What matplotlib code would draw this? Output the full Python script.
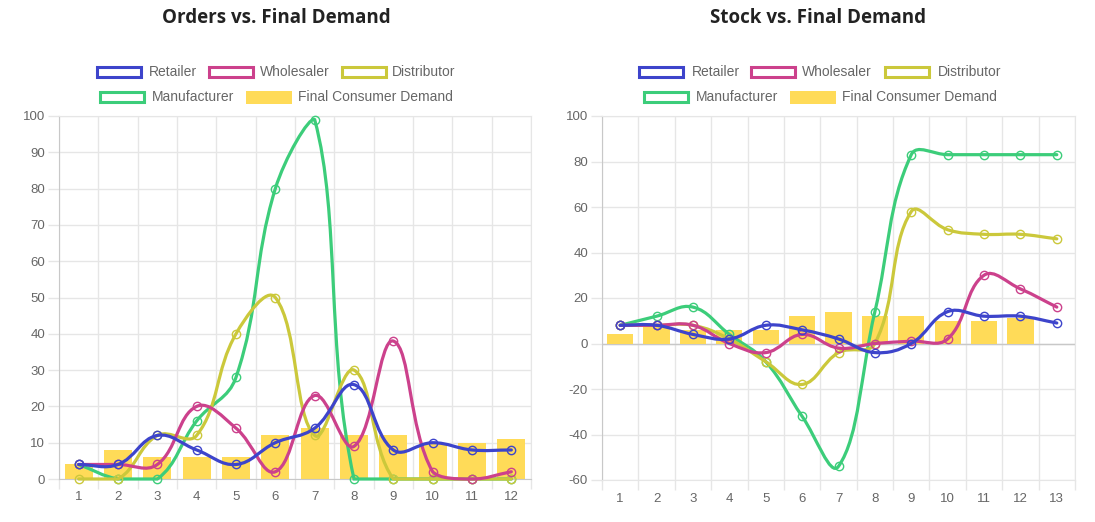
import numpy as np
import matplotlib.pyplot as plt
from matplotlib.path import Path
from matplotlib.patches import PathPatch, Rectangle

W, H = 1095, 522

# ---- data ----
orders_labels = [str(i) for i in range(1, 13)]
stock_labels = [str(i) for i in range(1, 14)]

demand = [4, 8, 6, 6, 6, 12, 14, 12, 12, 10, 10, 11]

orders_retailer = [4, 4, 12, 8, 4, 10, 14, 26, 8, 10, 8, 8]
orders_wholesaler = [4, 4, 4, 20, 14, 2, 23, 9, 38, 2, 0, 2]
orders_distributor = [0, 0, 12, 12, 40, 50, 12, 30, 0, 0, 0, 0]
orders_manufacturer = [4, 0, 0, 16, 28, 80, 99, 0, 0, 0, 0, 0]

stock_demand = demand + [np.nan]
stock_retailer = [8, 8, 4, 2, 8, 6, 2, -4, 0, 14, 12, 12, 9]
stock_wholesaler = [8, 8, 8, 0, -4, 4, -2, 0, 1, 2, 30, 24, 16]
stock_distributor = [8, 8, 8, 2, -8, -18, -4, 0, 58, 50, 48, 48, 46]
stock_manufacturer = [8, 12, 16, 4, -8, -32, -54, 14, 83, 83, 83, 83, 83]

names = ["Retailer", "Wholesaler", "Distributor", "Manufacturer"]
colors = ["#3d44cb", "#cc418c", "#cbc83b", "#3ccd7a"]
bar_color = "#ffdb58"
grid_c = "#e6e6e6"
text_c = "#666666"

plt.rcParams['font.family'] = ['Liberation Sans', 'DejaVu Sans']
plt.rcParams['axes.unicode_minus'] = False


def fx(px):
    return px / W


def fy(py):
    return 1 - py / H


def spline(ax, xs, ys, color, z, t=0.4):
    # chart.js style bezier through points, control points capped to plot area
    pts = ax.transData.transform(np.column_stack([xs, ys]))
    n = len(pts)
    bb = ax.bbox
    cps = []
    for i in range(n):
        p0 = pts[i - 1] if i > 0 else pts[i]
        p1 = pts[i]
        p2 = pts[i + 1] if i < n - 1 else pts[i]
        d01 = np.hypot(*(p1 - p0))
        d12 = np.hypot(*(p2 - p1))
        tot = d01 + d12
        s01 = d01 / tot if tot else 0
        s12 = d12 / tot if tot else 0
        a = p1 - t * s01 * (p2 - p0)
        b = p1 + t * s12 * (p2 - p0)
        a = np.array([np.clip(a[0], bb.x0, bb.x1), np.clip(a[1], bb.y0, bb.y1)])
        b = np.array([np.clip(b[0], bb.x0, bb.x1), np.clip(b[1], bb.y0, bb.y1)])
        cps.append((a, b))
    verts = [pts[0]]
    codes = [Path.MOVETO]
    for i in range(n - 1):
        verts += [cps[i][1], cps[i + 1][0], pts[i + 1]]
        codes += [Path.CURVE4] * 3
    verts = ax.transData.inverted().transform(np.array(verts))
    ax.add_patch(PathPatch(Path(verts, codes), fill=False, edgecolor=color,
                           lw=2.3, zorder=z, clip_on=False, capstyle='round'))
    ax.plot(xs, ys, 'o', ms=6, mfc='none', mec=color, mew=1, zorder=z,
            clip_on=False)


def setup(ax, n, ymin, ymax, step, labels):
    ax.set_xlim(-0.5, n - 0.5)
    ax.set_ylim(ymin, ymax)
    ax.set_yticks(np.arange(ymin, ymax + 1, step))
    ax.set_xticks(range(n))
    ax.set_xticklabels(labels)
    ax.set_xticks(np.arange(n + 1) - 0.5, minor=True)
    ax.grid(True, which='minor', axis='x', color=grid_c, lw=1)
    ax.grid(True, which='major', axis='y', color=grid_c, lw=1)
    ax.tick_params(axis='x', which='major', length=0, pad=9, labelsize=9.5,
                   labelcolor=text_c)
    ax.tick_params(axis='x', which='minor', length=7, color=grid_c, width=1)
    ax.tick_params(axis='y', length=8, color=grid_c, width=1, pad=2,
                   labelsize=9.5, labelcolor=text_c)
    for s in ['top', 'right']:
        ax.spines[s].set_color(grid_c)
    ax.spines['left'].set_color('#c8c8c8')
    ax.spines['bottom'].set_color('#c8c8c8' if ymin == 0 else grid_c)
    ax.set_axisbelow(True)


fig = plt.figure(figsize=(W / 100, H / 100), dpi=100)

ax1 = fig.add_axes([fx(59), fy(479), fx(531 - 59), (479 - 116) / H])
ax2 = fig.add_axes([fx(602), fy(480), fx(1075 - 602), (480 - 116) / H])

setup(ax1, 12, 0, 100, 10, orders_labels)
setup(ax2, 13, -60, 100, 20, stock_labels)
ax2.axhline(0, color='#c8c8c8', lw=1, zorder=1)

ax1.bar(range(12), demand, width=0.72, color=bar_color, zorder=2)
ax2.bar(range(13), stock_demand, width=0.72, color=bar_color, zorder=2)

orders = [orders_retailer, orders_wholesaler, orders_distributor, orders_manufacturer]
stock = [stock_retailer, stock_wholesaler, stock_distributor, stock_manufacturer]
for k in range(4):
    spline(ax1, np.arange(12), orders[k], colors[k], 10 - k)
    spline(ax2, np.arange(13), stock[k], colors[k], 10 - k)

# titles
fig.text(fx(276), fy(18), "Orders vs. Final Demand", ha='center', va='center',
         fontsize=13.5, fontweight='bold', color='#222222', family='Open Sans')
fig.text(fx(818), fy(18), "Stock vs. Final Demand", ha='center', va='center',
         fontsize=13.5, fontweight='bold', color='#222222', family='Open Sans')

# legends (box left, text left, row centre y)
legend_pos = [
    [(95, 149, 72), (207, 260, 72), (340, 392, 72), (98, 152, 97), (246, 298, 97)],
    [(637, 692, 72), (749, 802, 72), (883, 938, 72), (642, 696, 97), (790, 842, 97)],
]
leg_names = names + ["Final Consumer Demand"]
for pos in legend_pos:
    for k, (bx, tx, cy) in enumerate(pos):
        if k < 4:
            r = Rectangle((fx(bx + 1.5), fy(cy + 5)), 44 / W, 10 / H,
                          transform=fig.transFigure, facecolor='white',
                          edgecolor=colors[k], lw=2.2)
        else:
            r = Rectangle((fx(bx), fy(cy + 6.5)), 46 / W, 13 / H,
                          transform=fig.transFigure, facecolor=bar_color,
                          edgecolor='none')
        fig.patches.append(r)
        fig.text(fx(tx), fy(cy), leg_names[k], ha='left', va='center',
                 fontsize=10, color=text_c)

fig.savefig("out.png", dpi=100, facecolor='white')
